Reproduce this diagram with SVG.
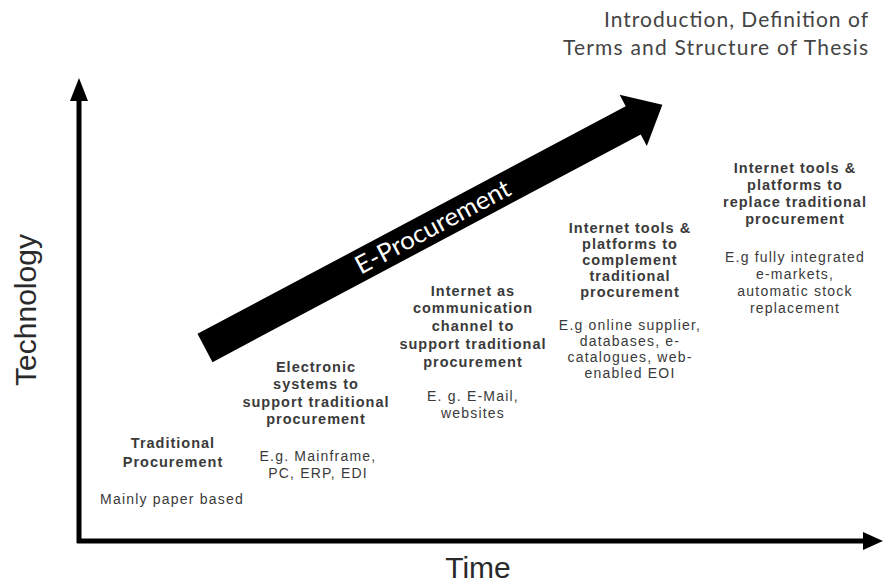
<svg xmlns="http://www.w3.org/2000/svg" width="883" height="587" viewBox="0 0 883 587">
<style>
.h{font-family:"Liberation Sans",Arial,sans-serif;font-size:14.5px;font-weight:bold;fill:#3a3a3a;letter-spacing:1px;text-anchor:middle}
.e{font-family:"Liberation Sans",Arial,sans-serif;font-size:14px;fill:#3a3a3a;letter-spacing:1.2px;text-anchor:middle}
.ax{font-family:"Liberation Sans",Arial,sans-serif;font-size:30px;fill:#2a2a2a;text-anchor:middle}
.title{font-family:Lato,"Open Sans",sans-serif;font-size:21px;fill:#444444;text-anchor:end}
</style>
<rect width="883" height="587" fill="#ffffff"/>
<g id="connectors">
  <line x1="79" y1="543" x2="79" y2="96" stroke="#000" stroke-width="5"/>
  <polygon points="79,78 70,101 88,101" fill="#000"/>
  <line x1="77" y1="541" x2="866" y2="541" stroke="#000" stroke-width="5"/>
  <polygon points="883,541 863,532 863,550" fill="#000"/>
  <g id="eproc-arrow" transform="translate(205,348) rotate(-28)">
    <polygon points="0,-16 485,-16 485,-29 518,0 485,29 485,16 0,16" fill="#000"/>
    <text x="258" y="8.5" font-family="Lato,'Open Sans',sans-serif" font-size="25" fill="#ffffff" text-anchor="middle" textLength="172" lengthAdjust="spacingAndGlyphs">E-Procurement</text>
  </g>
</g>
<g id="title">
  <text class="title" x="868" y="27" textLength="264">Introduction, Definition of</text>
  <text class="title" x="868" y="55" textLength="305">Terms and Structure of Thesis</text>
</g>
<g id="axis-labels">
  <text class="ax" transform="translate(36,310) rotate(-90)">Technology</text>
  <text class="ax" x="478" y="578">Time</text>
</g>
<g id="stage1">
  <text class="h" x="173" y="448">Traditional</text>
  <text class="h" x="173" y="467">Procurement</text>
  <text class="e" x="172" y="504">Mainly paper based</text>
</g>
<g id="stage2">
  <text class="h" x="316" y="372">Electronic</text>
  <text class="h" x="316" y="389">systems to</text>
  <text class="h" x="316" y="407">support traditional</text>
  <text class="h" x="316" y="424">procurement</text>
  <text class="e" x="318" y="461">E.g. Mainframe,</text>
  <text class="e" x="318" y="478">PC, ERP, EDI</text>
</g>
<g id="stage3">
  <text class="h" x="473" y="296">Internet as</text>
  <text class="h" x="473" y="313">communication</text>
  <text class="h" x="473" y="331">channel to</text>
  <text class="h" x="473" y="349">support traditional</text>
  <text class="h" x="473" y="367">procurement</text>
  <text class="e" x="473" y="401">E. g. E-Mail,</text>
  <text class="e" x="473" y="418">websites</text>
</g>
<g id="stage4">
  <text class="h" x="630" y="233">Internet tools &amp;</text>
  <text class="h" x="630" y="249">platforms to</text>
  <text class="h" x="630" y="265">complement</text>
  <text class="h" x="630" y="281">traditional</text>
  <text class="h" x="630" y="297">procurement</text>
  <text class="e" x="630" y="330">E.g online supplier,</text>
  <text class="e" x="630" y="346">databases, e-</text>
  <text class="e" x="630" y="362">catalogues, web-</text>
  <text class="e" x="630" y="378">enabled EOI</text>
</g>
<g id="stage5">
  <text class="h" x="795" y="173">Internet tools &amp;</text>
  <text class="h" x="795" y="190">platforms to</text>
  <text class="h" x="795" y="207">replace traditional</text>
  <text class="h" x="795" y="224">procurement</text>
  <text class="e" x="795" y="262">E.g fully integrated</text>
  <text class="e" x="795" y="279">e-markets,</text>
  <text class="e" x="795" y="296">automatic stock</text>
  <text class="e" x="795" y="313">replacement</text>
</g>
</svg>
